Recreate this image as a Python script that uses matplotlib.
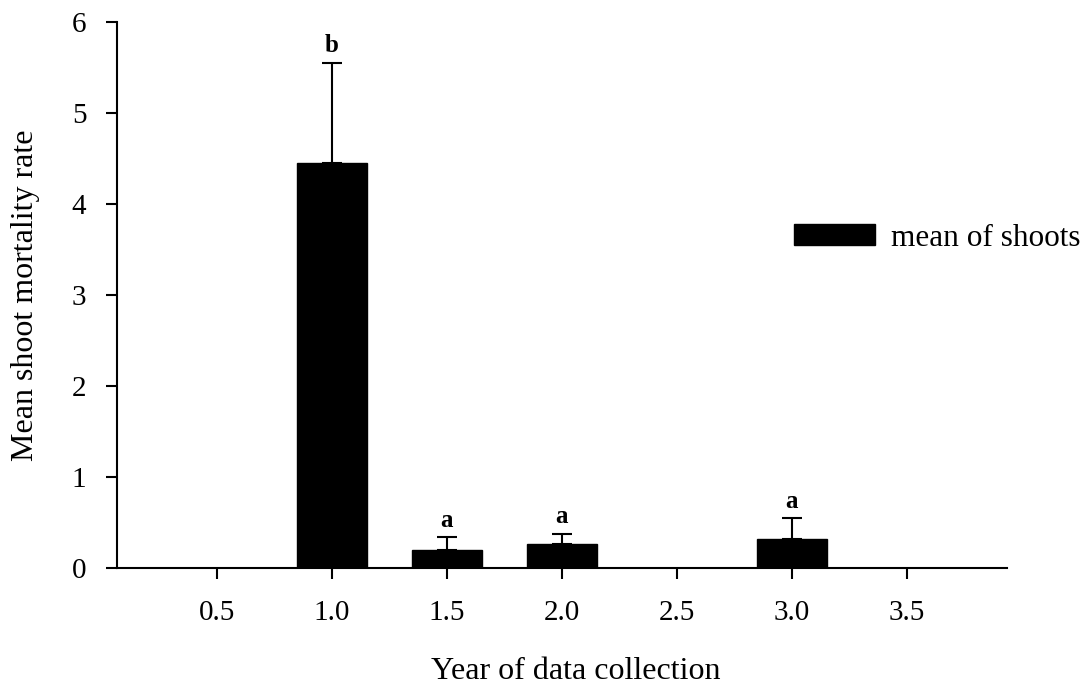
import matplotlib
matplotlib.use("Agg")
import matplotlib.pyplot as plt

# Data
years = [1.0, 1.5, 2.0, 3.0]
means = [4.45, 0.20, 0.27, 0.32]
err_upper = [1.10, 0.14, 0.11, 0.23]
letters = ["b", "a", "a", "a"]
xticks = [0.5, 1.0, 1.5, 2.0, 2.5, 3.0, 3.5]
xtick_labels = ["0.5", "1.0", "1.5", "2.0", "2.5", "3.0", "3.5"]
yticks = [0, 1, 2, 3, 4, 5, 6]

plt.rcParams['font.family'] = ['Liberation Serif', 'DejaVu Serif']

W, H = 1091, 691
fig = plt.figure(figsize=(W / 100, H / 100), dpi=100)
ax = fig.add_axes([117 / W, 1 - 568.3 / H, (1007 - 117) / W, (568.3 - 22) / H])

ax.bar(years, means, width=0.305, color='black', edgecolor='black',
       label='mean of shoots', zorder=2)
ax.errorbar(years, means, yerr=[[0] * len(means), err_upper], fmt='none',
            ecolor='black', elinewidth=1.5, capsize=7, capthick=1.5, zorder=1)

for x, m, e, t in zip(years, means, err_upper, letters):
    ax.annotate(t, xy=(x, m + e), xytext=(0, 4), textcoords='offset points',
                ha='center', va='bottom', fontsize=18, fontweight='bold')

ax.set_xlim(0.067, 3.936)
ax.set_ylim(0, 6)
ax.set_xticks(xticks)
ax.set_xticklabels(xtick_labels)
ax.set_yticks(yticks)

for s in ['top', 'right']:
    ax.spines[s].set_visible(False)
for s in ['left', 'bottom']:
    ax.spines[s].set_linewidth(1.5)

ax.tick_params(axis='both', direction='out', length=8, width=1.5,
               labelsize=21, colors='black')
ax.tick_params(axis='x', pad=15)
ax.tick_params(axis='y', pad=14)

ax.set_xlabel('Year of data collection', fontsize=23)
ax.set_ylabel('Mean shoot mortality rate', fontsize=23)
ax.xaxis.set_label_coords((575.5 - 117) / 890, (568.3 - 657) / 546.3)
ax.yaxis.set_label_coords((40 - 117) / 890, 0.5)

fig.legend(loc='center left', bbox_to_anchor=(794 / W, 1 - 238 / H),
           frameon=False, fontsize=22.5, handlelength=2.6, handleheight=0.65,
           handletextpad=0.5, borderpad=0, borderaxespad=0)

fig.savefig('out.png', dpi=100)
